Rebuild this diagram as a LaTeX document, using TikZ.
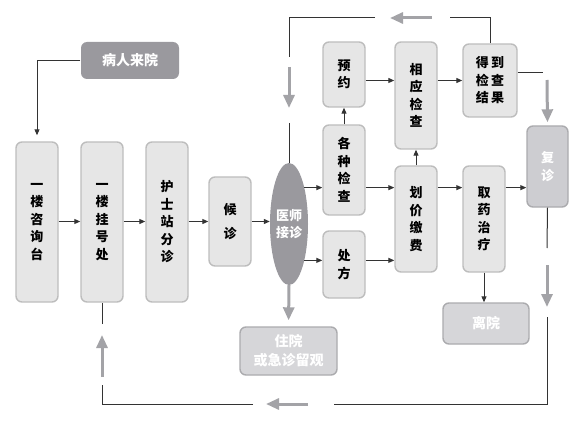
\documentclass[tikz,border=0pt]{standalone}
\usepackage{fontspec}
\setmainfont{Noto Sans CJK SC}
\usetikzlibrary{arrows.meta, positioning, calc, shapes.geometric}
\definecolor{boxfill}{HTML}{E6E6E6}
\definecolor{boxborder}{HTML}{BDBDBD}
\definecolor{darknode}{HTML}{9A999E}
\definecolor{midfill}{HTML}{CDCDD1}
\definecolor{paleout}{HTML}{D6D6D9}
\definecolor{outborder}{HTML}{ABABAE}
\definecolor{linkgray}{HTML}{A3A3A7}
\definecolor{linkdark}{HTML}{333333}

\begin{document}
\begin{tikzpicture}[x=1pt,y=-1pt,
    stepbox/.style={draw=boxborder, fill=boxfill, line width=1.4pt, rounded corners=6pt,
      align=center, inner sep=0pt, font=\fontsize{13}{17.5}\selectfont\bfseries},
    outbox/.style={stepbox, draw=outborder, fill=paleout, text=white,
      font=\fontsize{14}{19}\selectfont\bfseries},
    flow/.style={draw=linkdark, line width=1pt, -{Triangle[length=6pt,width=5pt]}},
    plainline/.style={draw=linkdark, line width=1pt},
    bigarrow/.style={draw=linkgray, line width=3pt, -{Triangle[length=13pt,width=11pt]}}]
        \useasboundingbox (0,0) rectangle (584,425);
        % first floor chain
        \node[stepbox, minimum width=42pt, minimum height=160pt] (ask) at (37,222) {一\\楼\\咨\\询\\台};
        \node[stepbox, minimum width=42pt, minimum height=160pt] (reg) at (102,222) {一\\楼\\挂\\号\\处};
        \node[stepbox, minimum width=42pt, minimum height=160pt] (nurse) at (167,222) {护\\士\\站\\分\\诊};
        \node[stepbox, minimum width=42pt, minimum height=89pt] (wait) at (230,221.5) {候\\[6pt]诊};
        \node[ellipse, fill=darknode, minimum width=38pt, minimum height=122pt, inner sep=0pt,
          text=white, align=center, font=\fontsize{13}{17.5}\selectfont\bfseries] (doc) at (289,224) {医师\\接诊};
        \node[outbox, fill=darknode, draw=none, minimum width=98pt, minimum height=37pt] (patient) at (130,60.5) {病人来院};
        % examination branch
        \node[stepbox, minimum width=42pt, minimum height=90pt] (check) at (344,170) {各\\种\\检\\查};
        \node[stepbox, minimum width=42pt, minimum height=65pt] (appt) at (344,74.5) {预\\约};
        \node[stepbox, minimum width=42pt, minimum height=67pt] (presc) at (344,264.5) {处\\方};
        \node[stepbox, minimum width=42pt, minimum height=107pt] (exam) at (416,95.5) {相\\应\\检\\查};
        \node[stepbox, minimum width=42pt, minimum height=106pt] (pay) at (416,219) {划\\价\\缴\\费};
        \node[stepbox, minimum width=54pt, minimum height=73pt] (result) at (490,80.5) {得\,到\\检\,查\\结\,果};
        \node[stepbox, minimum width=42pt, minimum height=106pt] (drug) at (484,219) {取\\药\\治\\疗};
        \node[outbox, fill=midfill, minimum width=41pt, minimum height=81pt,
          font=\fontsize{13}{17.5}\selectfont\bfseries] (revisit) at (547.5,166.5) {复\\诊};
        \node[outbox, minimum width=86pt, minimum height=41pt] (leave) at (486,323.5) {离院};
        \node[outbox, minimum width=97pt, minimum height=48pt] (hosp) at (288.5,351) {住院\\或急诊留观};
        % turning points of the loops
        \coordinate (topA) at (450,18);
        \coordinate (topB) at (432,18);
        \coordinate (topC) at (390,18);
        \coordinate (topD) at (375,18);
        \coordinate (downA) at (289,57);
        \coordinate (downB) at (289,67);
        \coordinate (downC) at (289,108);
        \coordinate (downD) at (289,123);
        \coordinate (sideA) at (543,73);
        \coordinate (sideB) at (547,80);
        \coordinate (backA) at (547,248);
        \coordinate (backB) at (547,265);
        \coordinate (backC) at (547,307);
        \coordinate (backD) at (547,317);
        \coordinate (lowA) at (334,404);
        \coordinate (lowB) at (308,404);
        \coordinate (lowC) at (266,404);
        \coordinate (lowD) at (253,404);
        \coordinate (upA) at (102,385);
        \coordinate (upB) at (102,377);
        \coordinate (upC) at (102,335);
        \coordinate (upD) at (102,324);
        % connectors
        \draw[flow, shorten >=6pt] (patient.west) -| (ask.north);
        \draw[flow] (ask.east |- wait.east) -- (reg.west |- wait.east);
        \draw[flow] (reg.east |- wait.east) -- (nurse.west |- wait.east);
        \draw[flow] (nurse.east |- wait.east) -- (wait.east -| wait.west);
        \draw[flow] (wait.east) -- (wait.east -| doc.west);
        \draw[flow] (doc.67) -- (doc.67 -| check.west);
        \draw[flow] (doc.-67) -- (doc.-67 -| presc.west);
        \draw[flow] (check.north) -- (appt.south);
        \draw[flow] (appt.east |- result.west) -- (exam.west |- result.west);
        \draw[flow] (exam.east |- result.west) -- (result.west);
        \draw[flow] (check.east |- doc.67) -- (pay.west |- doc.67);
        \draw[flow] (presc.east |- doc.-67) -- (pay.west |- doc.-67);
        \draw[flow] (pay.north) -- (exam.south);
        \draw[flow] (pay.east |- doc.67) -- (drug.west |- doc.67);
        \draw[flow] (drug.east |- doc.67) -- (revisit.west |- doc.67);
        \draw[flow] (drug.south) -- (drug.south |- leave.north);
        \draw[bigarrow, shorten >=6pt] (doc.south) -- (hosp.north);
        % top loop back to the doctor
        \draw[plainline] (result.north) |- (topA);
        \draw[bigarrow] (topB) -- (topC);
        \draw[plainline] (topD) -| (downA);
        \draw[bigarrow] (downB) -- (downC);
        \draw[plainline] (downD) -- (doc.north);
        % results to revisit
        \draw[plainline] (result.east |- sideA) -- (sideA);
        \draw[bigarrow, shorten >=3pt] (sideB) -- (revisit.north);
        % bottom loop back to registration
        \draw[plainline] (revisit.south) -- (backA);
        \draw[bigarrow] (backB) -- (backC);
        \draw[plainline] (backD) |- (lowA);
        \draw[bigarrow] (lowB) -- (lowC);
        \draw[plainline] (lowD) -| (upA);
        \draw[bigarrow] (upB) -- (upC);
        \draw[plainline] (upD) -- (reg.south);
\end{tikzpicture}
\end{document}
